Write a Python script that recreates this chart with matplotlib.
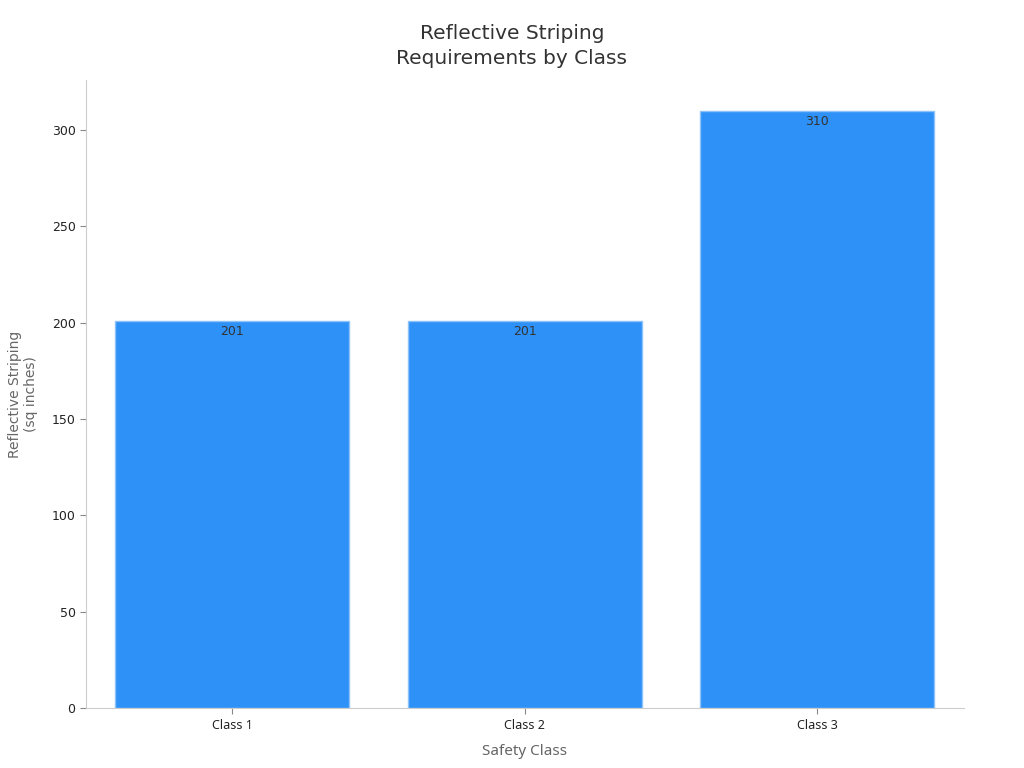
import matplotlib.pyplot as plt

categories = ['Class 1', 'Class 2', 'Class 3']
values = [201, 201, 310]

bar_color = '#2E91F8'
edge_color = '#8CC2F7'
spine_color = '#CCCCCC'

fig, ax = plt.subplots(figsize=(10.24, 7.68), dpi=100)
fig.subplots_adjust(left=0.084, right=0.941, top=0.896, bottom=0.078)

x = range(len(categories))
bars = ax.bar(x, values, width=0.8, color=bar_color, edgecolor=edge_color, linewidth=1)

# value labels just inside the top of each bar
for b, v in zip(bars, values):
    ax.text(b.get_x() + b.get_width() / 2, v - 2, f'{v}', ha='center', va='top',
            fontsize=9, color='#333333')

ax.set_xlim(-0.5, 2.5)
ax.set_ylim(0, 326)
ax.set_xticks(list(x))
ax.set_xticklabels(categories, family='Noto Sans', fontsize=9, color='#222222')
ax.set_yticks([0, 50, 100, 150, 200, 250, 300])
ax.tick_params(axis='y', labelsize=9, colors='#222222', length=4, color='#888888')
ax.tick_params(axis='x', length=4, color='#888888')

for s in ['top', 'right']:
    ax.spines[s].set_visible(False)
for s in ['left', 'bottom']:
    ax.spines[s].set_color(spine_color)

# title centred on the figure, not the axes
fig.text(0.5, 0.940, 'Reflective Striping\nRequirements by Class', ha='center', va='center',
         fontsize=14.5, color='#333333', linespacing=1.45)
ax.set_ylabel('Reflective Striping\n(sq inches)', fontsize=10, color='#666666', labelpad=10)
ax.set_xlabel('Safety Class', family='Noto Sans', fontsize=11, color='#666666', labelpad=9)

plt.savefig('out.png', dpi=100)
